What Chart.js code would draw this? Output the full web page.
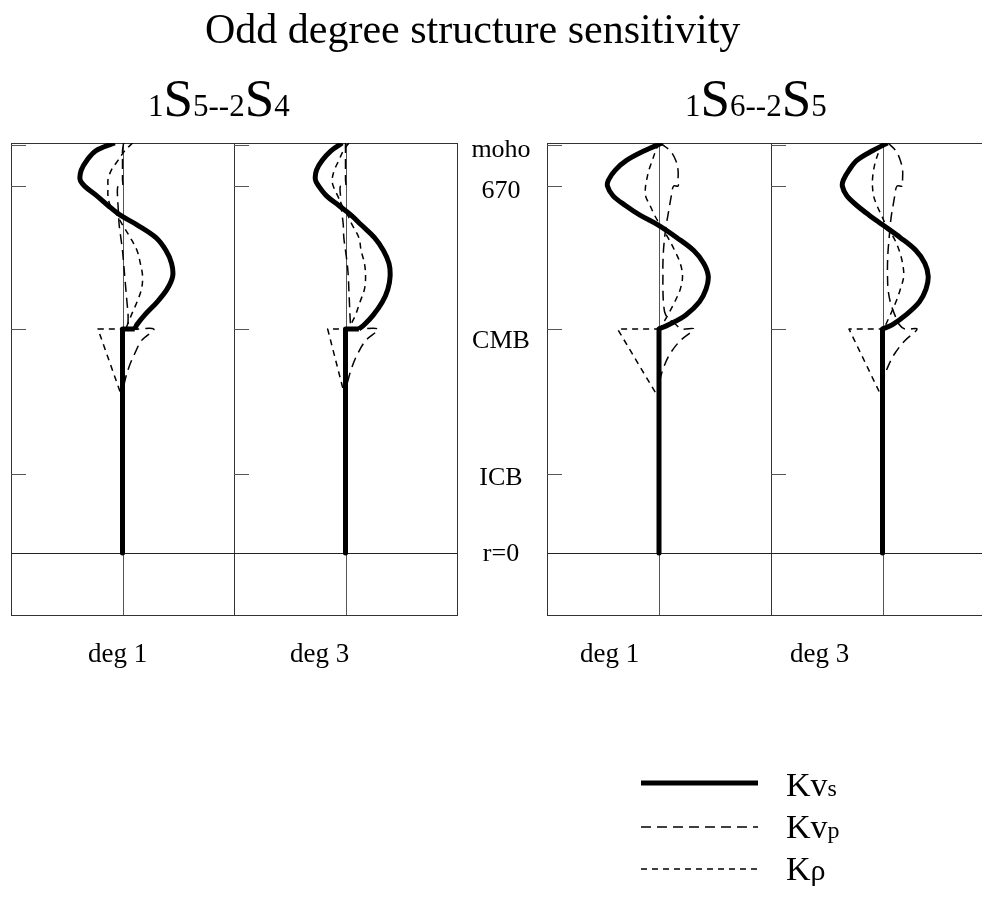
<!DOCTYPE html>
<html>
<head>
<meta charset="utf-8">
<script src="https://cdn.jsdelivr.net/npm/chart.js@4.4.1/dist/chart.umd.min.js"></script>
<style>
    html, body { margin: 0; padding: 0; background: #fff; overflow: hidden; }
    body { width: 982px; height: 901px; position: relative; }
    canvas { position: absolute; left: 0; top: 0; }
    svg { position: absolute; left: 0; top: 0; pointer-events: none; }
    svg text { font-family: "Liberation Serif", "Times New Roman", serif; fill: #000; }
</style>
</head>
<body>
<canvas id="panel1" width="1000" height="901"></canvas>
<canvas id="panel2" width="1000" height="901"></canvas>
<canvas id="panel3" width="1000" height="901"></canvas>
<canvas id="panel4" width="1000" height="901"></canvas>

<svg width="982" height="901">
    <text x="205" y="43" font-size="42">Odd degree structure sensitivity</text>
    <text x="148" y="116"><tspan font-size="31">1</tspan><tspan font-size="53">S</tspan><tspan font-size="31">5--2</tspan><tspan font-size="53">S</tspan><tspan font-size="31">4</tspan></text>
    <text x="685" y="116"><tspan font-size="31">1</tspan><tspan font-size="53">S</tspan><tspan font-size="31">6--2</tspan><tspan font-size="53">S</tspan><tspan font-size="31">5</tspan></text>
    <g id="boundaryLabels" font-size="26" text-anchor="middle"></g>
    <g id="panelLabels" font-size="27"></g>
    <text x="786" y="796"><tspan font-size="34">Kv</tspan><tspan font-size="24">s</tspan></text>
    <text x="786" y="838"><tspan font-size="34">Kv</tspan><tspan font-size="24">p</tspan></text>
    <text x="786" y="880"><tspan font-size="34">K</tspan><tspan font-size="30">ρ</tspan></text>
</svg>

<script>
// ============================================================
// DATA - radius in km, kernel amplitude in panel units (-1..1)
// ============================================================
const panelLabels = ['deg 1', 'deg 3', 'deg 1', 'deg 3'];
const boundaryNames = ['moho', '670', 'CMB', 'ICB', 'r=0'];
const boundaryRadius = [6346, 5701, 3480, 1221, 0];

const radiusMantle = [6371, 6250, 6100, 5950, 5800, 5701, 5550, 5400, 5250, 5100, 4900, 4700, 4500, 4300, 4100, 3900, 3700, 3550, 3480];
const radiusCoreKvs = [3480, 0];
const radiusCoreRho = [3480, 2400];
const radiusKvp = [6371, 6250, 6100, 5950, 5800, 5701, 5701, 5550, 5400, 5250, 5100, 4900, 4700, 4500, 4300, 4100, 3900, 3700, 3550, 3480, 3480, 3300, 3100, 2900, 2700, 2500];

// 1S5--2S4
const kvs1 = [-0.07, -0.24, -0.32, -0.37, -0.38, -0.34, -0.23, -0.13, -0.02, 0.13, 0.30, 0.39, 0.44, 0.45, 0.40, 0.31, 0.20, 0.13, 0.11];
const kvs2 = [-0.03, -0.13, -0.21, -0.26, -0.27, -0.24, -0.17, -0.06, 0.05, 0.14, 0.26, 0.34, 0.39, 0.40, 0.38, 0.33, 0.25, 0.17, 0.12];
const krho1 = [0.09, 0.02, -0.04, -0.10, -0.13, -0.13, -0.13, -0.11, -0.05, 0.0, 0.07, 0.13, 0.16, 0.18, 0.17, 0.13, 0.08, 0.045, 0.03];
const krho2 = [0.03, -0.02, -0.06, -0.10, -0.12, -0.11, -0.07, -0.03, 0.02, 0.06, 0.12, 0.14, 0.17, 0.18, 0.17, 0.13, 0.09, 0.05, 0.04];
const krhoCore1 = [-0.22, 0];
const krhoCore2 = [-0.16, 0];
const kvp1 = [0.01, 0, 0, 0, 0, 0, -0.04, -0.045, -0.04, -0.035, -0.03, -0.015, 0, 0.01, 0.02, 0.03, 0.04, 0.05, 0.05, 0.055, 0.28, 0.17, 0.11, 0.06, 0.025, 0];
const kvp2 = [0, 0, 0, 0, 0, 0, -0.045, -0.045, -0.04, -0.03, -0.02, -0.015, 0, 0.015, 0.025, 0.03, 0.035, 0.04, 0.045, 0.05, 0.29, 0.18, 0.11, 0.06, 0.025, 0];

// 1S6--2S5
const kvs3 = [0.03, -0.13, -0.29, -0.39, -0.45, -0.46, -0.41, -0.30, -0.17, -0.01, 0.16, 0.31, 0.40, 0.44, 0.42, 0.36, 0.24, 0.09, 0.0];
const kvs4 = [0.045, -0.09, -0.23, -0.30, -0.35, -0.36, -0.32, -0.23, -0.12, 0.0, 0.16, 0.30, 0.38, 0.41, 0.39, 0.33, 0.21, 0.09, 0.0];
const krho3 = [0.0, -0.03, -0.06, -0.09, -0.11, -0.12, -0.12, -0.08, -0.04, 0.01, 0.08, 0.14, 0.19, 0.21, 0.19, 0.14, 0.08, 0.03, 0.01];
const krho4 = [0.0, -0.03, -0.06, -0.08, -0.09, -0.09, -0.08, -0.05, -0.01, 0.03, 0.10, 0.15, 0.18, 0.19, 0.16, 0.12, 0.07, 0.03, 0.02];
const krhoCore3 = [-0.37, 0];
const krhoCore4 = [-0.30, 0];
const kvp3 = [0.01, 0.10, 0.15, 0.17, 0.17, 0.17, 0.13, 0.11, 0.095, 0.08, 0.065, 0.05, 0.04, 0.035, 0.035, 0.035, 0.04, 0.06, 0.15, 0.20, 0.31, 0.19, 0.10, 0.045, 0.01, 0];
const kvp4 = [0.05, 0.12, 0.16, 0.18, 0.18, 0.18, 0.13, 0.11, 0.095, 0.08, 0.07, 0.06, 0.05, 0.045, 0.045, 0.05, 0.07, 0.11, 0.15, 0.20, 0.31, 0.20, 0.11, 0.05, 0.01, 0];

const kvsCore = [0, 0];

// ============================================================
// LAYOUT
// ============================================================
const panelLeft = [11, 234, 547, 771];
const panelRight = [234, 457, 771, 994];
const plotTop = 143;
const plotBottom = 615;
const canvasW = 1000;
const canvasH = 901;

function pts(radii, values) {
    return values.map((v, i) => ({ x: v, y: radii[i] }));
}

function line(ctx, x1, y1, x2, y2) {
    ctx.beginPath();
    ctx.moveTo(x1, y1);
    ctx.lineTo(x2, y2);
    ctx.stroke();
}

// box, centre line, r=0 line and the inward boundary ticks
const framePlugin = {
    id: 'frame',
    beforeDatasetsDraw(chart) {
        const { ctx, chartArea: a, scales: { x, y } } = chart;
        ctx.save();
        ctx.lineWidth = 1;

        ctx.strokeStyle = '#333';
        ctx.strokeRect(a.left + 0.5, a.top + 0.5, a.right - a.left, a.bottom - a.top);

        const cx = Math.round(x.getPixelForValue(0)) + 0.5;
        ctx.strokeStyle = '#555';
        line(ctx, cx, a.top, cx, a.bottom);

        boundaryRadius.forEach(r => {
            const py = Math.round(y.getPixelForValue(r)) + 0.5;
            if (r === 0) {
                ctx.strokeStyle = '#222';
                line(ctx, a.left, py, a.right, py);
            } else {
                ctx.strokeStyle = '#555';
                line(ctx, a.left, py, a.left + 15, py);
            }
        });
        ctx.restore();
    }
};

// legend samples, drawn from the dataset styles of the last panel
const legendPlugin = {
    id: 'sampleLegend',
    afterDraw(chart) {
        const ctx = chart.ctx;
        const rows = [783, 827, 869];
        ctx.save();
        chart.data.datasets.filter(ds => !ds.core).forEach((ds, i) => {
            ctx.strokeStyle = ds.borderColor;
            ctx.lineWidth = ds.borderWidth;
            ctx.setLineDash(ds.borderDash || []);
            ctx.lineCap = 'butt';
            line(ctx, 641, rows[i], 758, rows[i]);
        });
        ctx.restore();
    }
};

function makePanel(idx, kvs, kvp, krho, krhoCore) {
    const extra = idx === 3 ? [framePlugin, legendPlugin] : [framePlugin];
    const cmb = radiusMantle[radiusMantle.length - 1];
    return new Chart(document.getElementById('panel' + (idx + 1)), {
        type: 'line',
        data: {
            datasets: [
                {
                    label: 'Kvs',
                    data: pts(radiusMantle, kvs),
                    borderColor: '#000',
                    borderWidth: 5,
                    borderDash: [],
                    tension: 0.35
                },
                {
                    label: 'Kvs',
                    core: true,
                    data: [{ x: kvs[kvs.length - 1], y: cmb }, ...pts(radiusCoreKvs, kvsCore)],
                    borderColor: '#000',
                    borderWidth: 5,
                    borderDash: [],
                    tension: 0
                },
                {
                    label: 'Kvp',
                    data: pts(radiusKvp, kvp),
                    borderColor: '#000',
                    borderWidth: 1.5,
                    borderDash: [10, 6],
                    tension: 0.35
                },
                {
                    label: 'Kρ',
                    data: pts(radiusMantle, krho),
                    borderColor: '#000',
                    borderWidth: 1.5,
                    borderDash: [6, 5],
                    tension: 0.35
                },
                {
                    label: 'Kρ',
                    core: true,
                    data: [{ x: krho[krho.length - 1], y: cmb }, ...pts(radiusCoreRho, krhoCore)],
                    borderColor: '#000',
                    borderWidth: 1.5,
                    borderDash: [6, 5],
                    tension: 0
                }
            ]
        },
        options: {
            responsive: false,
            animation: false,
            devicePixelRatio: 1,
            layout: {
                padding: {
                    left: panelLeft[idx],
                    right: canvasW - panelRight[idx],
                    top: plotTop,
                    bottom: canvasH - plotBottom
                }
            },
            scales: {
                x: { type: 'linear', min: -1, max: 1, display: false },
                y: { type: 'linear', min: -963, max: 6371, display: false }
            },
            elements: {
                point: { radius: 0 },
                line: { borderJoinStyle: 'round', borderCapStyle: 'butt', fill: false }
            },
            plugins: {
                legend: { display: false },
                tooltip: { enabled: false },
                title: { display: false }
            }
        },
        plugins: extra
    });
}

const charts = [
    makePanel(0, kvs1, kvp1, krho1, krhoCore1),
    makePanel(1, kvs2, kvp2, krho2, krhoCore2),
    makePanel(2, kvs3, kvp3, krho3, krhoCore3),
    makePanel(3, kvs4, kvp4, krho4, krhoCore4)
];

// ============================================================
// TEXT LABELS (positions from the y scale)
// ============================================================
const svgNS = 'http://www.w3.org/2000/svg';
const yScale = charts[2].scales.y;
const labelShift = [12, 12, 19, 11, 8];
const gB = document.getElementById('boundaryLabels');
boundaryNames.forEach((name, i) => {
    const t = document.createElementNS(svgNS, 'text');
    t.setAttribute('x', 501);
    t.setAttribute('y', Math.round(yScale.getPixelForValue(boundaryRadius[i])) + labelShift[i]);
    t.textContent = name;
    gB.appendChild(t);
});

const labelX = [88, 290, 580, 790];
const gP = document.getElementById('panelLabels');
panelLabels.forEach((name, i) => {
    const t = document.createElementNS(svgNS, 'text');
    t.setAttribute('x', labelX[i]);
    t.setAttribute('y', 662);
    t.textContent = name;
    gP.appendChild(t);
});
</script>
</body>
</html>
